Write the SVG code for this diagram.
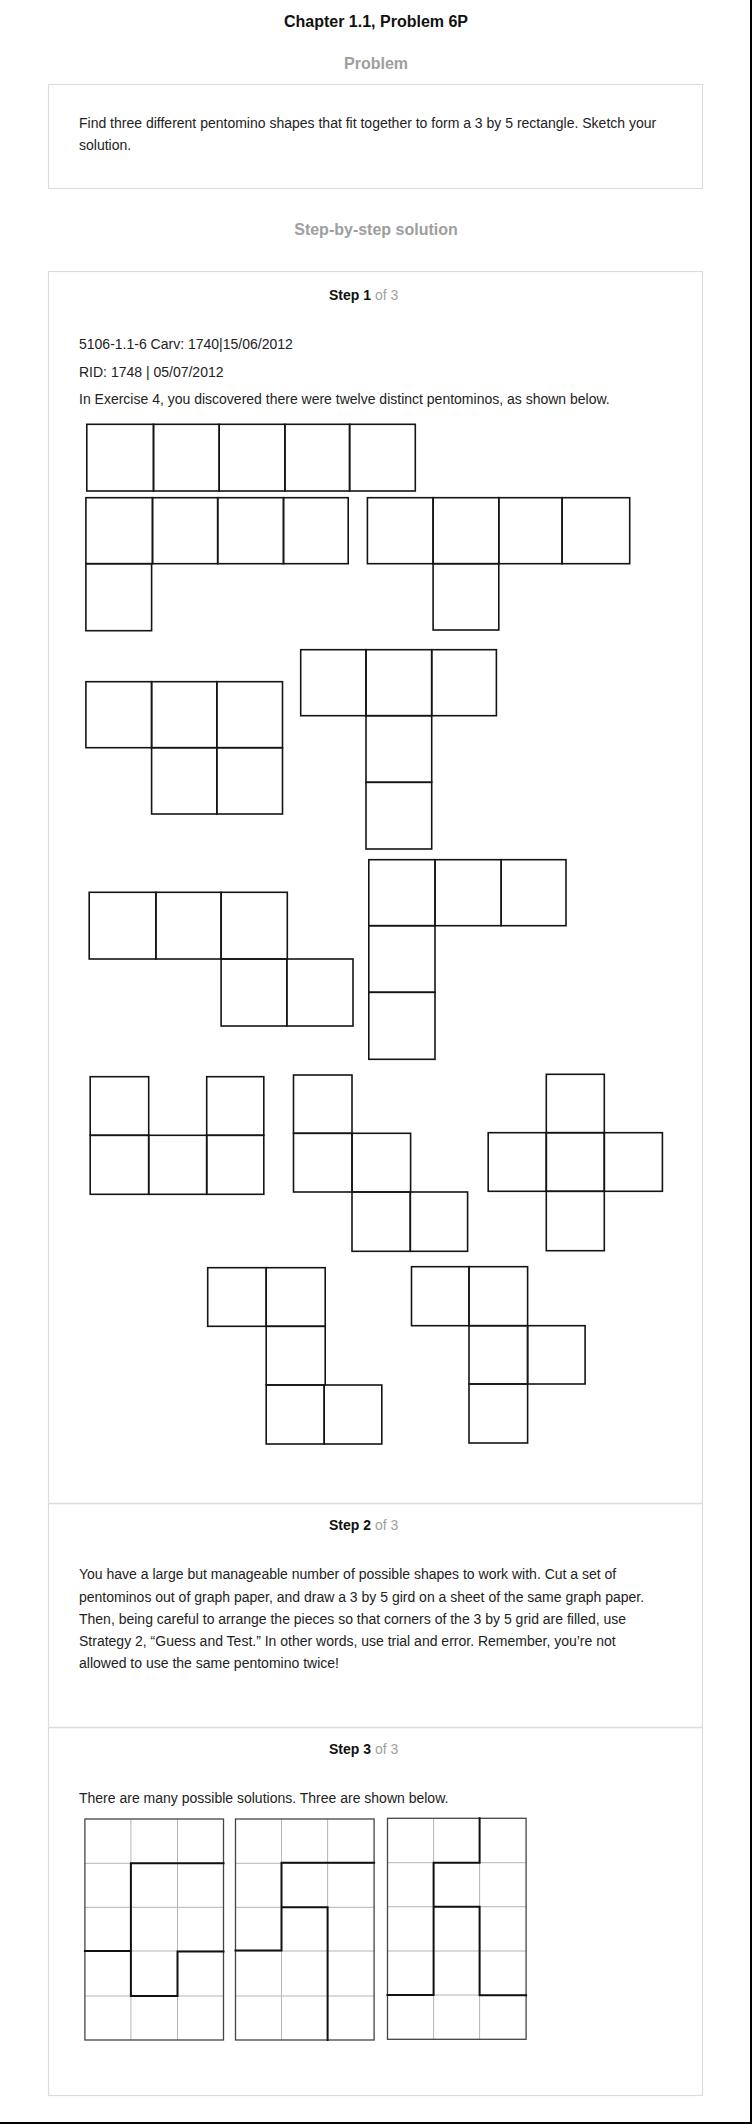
<svg xmlns="http://www.w3.org/2000/svg" width="752" height="2124" viewBox="0 0 752 2124">
<style>
text{font-family:"Liberation Sans",Arial,sans-serif;}
.title{font-size:16px;font-weight:bold;fill:#111;}
.head{font-size:16px;font-weight:bold;fill:#9e9e9e;}
.body{font-size:14px;fill:#222;}
.stepb{font-size:14px;font-weight:bold;fill:#111;}
.stepg{font-size:14px;fill:#a0a0a0;}
.box{fill:#fff;stroke:#dcdcdc;stroke-width:1.2;}
.sep{stroke:#dcdcdc;stroke-width:1.5;}
.pc rect{fill:none;stroke:#151515;stroke-width:1.6;}
.gl{stroke:#b5b5b5;stroke-width:1;fill:none;}
.go{stroke:#444;stroke-width:1.3;fill:none;}
.gt{stroke:#111;stroke-width:2;fill:none;stroke-linecap:square;}
</style>
<rect x="0" y="0" width="752" height="2124" fill="#fff"/>
<line x1="751" y1="0" x2="751" y2="2124" stroke="#000" stroke-width="2"/>
<line x1="0" y1="2123" x2="752" y2="2123" stroke="#000" stroke-width="2"/>

<g id="header">
<text class="title" x="376" y="27" text-anchor="middle">Chapter 1.1, Problem 6P</text>
<text class="head" x="376" y="68.5" text-anchor="middle">Problem</text>
</g>

<g id="problem">
<rect class="box" x="48.5" y="84.5" width="654" height="104"/>
<text class="body" x="79" y="127.5">Find three different pentomino shapes that fit together to form a 3 by 5 rectangle. Sketch your</text>
<text class="body" x="79" y="150">solution.</text>
</g>

<text class="head" x="376" y="235" text-anchor="middle">Step-by-step solution</text>

<g id="steps-box">
<rect class="box" x="48.5" y="271.5" width="654" height="1824"/>
<line class="sep" x1="48.5" y1="1503.5" x2="702.5" y2="1503.5"/>
<line class="sep" x1="48.5" y1="1727.5" x2="702.5" y2="1727.5"/>
</g>

<g id="step1">
<text x="329" y="299.5"><tspan class="stepb">Step 1</tspan><tspan class="stepg"> of 3</tspan></text>
<text class="body" x="79" y="348.5">5106-1.1-6 Carv: 1740|15/06/2012</text>
<text class="body" x="79" y="376.5">RID: 1748 | 05/07/2012</text>
<text class="body" x="79" y="404">In Exercise 4, you discovered there were twelve distinct pentominos, as shown below.</text>
</g>

<g id="pent-I" class="pc">
<rect x="86.8" y="424.3" width="66.7" height="66.7"/>
<rect x="153.5" y="424.3" width="65.7" height="66.7"/>
<rect x="219.2" y="424.3" width="65.7" height="66.7"/>
<rect x="284.9" y="424.3" width="64.7" height="66.7"/>
<rect x="349.6" y="424.3" width="65.7" height="66.7"/>
</g>
<g id="pent-L" class="pc">
<rect x="85.9" y="497.7" width="66.6" height="66"/>
<rect x="152.5" y="497.7" width="65.2" height="66"/>
<rect x="217.7" y="497.7" width="65.8" height="66"/>
<rect x="283.5" y="497.7" width="64.7" height="66"/>
<rect x="85.9" y="563.7" width="65.7" height="67"/>
</g>
<g id="pent-Y" class="pc">
<rect x="367.4" y="497.7" width="65.7" height="66"/>
<rect x="433.1" y="497.7" width="65.7" height="66"/>
<rect x="498.8" y="497.7" width="63.3" height="66"/>
<rect x="562.1" y="497.7" width="67.6" height="66"/>
<rect x="433.1" y="563.7" width="65.7" height="66.3"/>
</g>
<g id="pent-P" class="pc">
<rect x="85.9" y="681.7" width="65.7" height="66"/>
<rect x="151.6" y="681.7" width="65.2" height="66"/>
<rect x="216.8" y="681.7" width="65.7" height="66"/>
<rect x="151.6" y="747.7" width="65.2" height="66.3"/>
<rect x="216.8" y="747.7" width="65.7" height="66.3"/>
</g>
<g id="pent-T" class="pc">
<rect x="300.7" y="649.7" width="65.3" height="66"/>
<rect x="366" y="649.7" width="65.7" height="66"/>
<rect x="431.7" y="649.7" width="64.7" height="66"/>
<rect x="366" y="715.7" width="65.7" height="66.6"/>
<rect x="366" y="782.3" width="65.7" height="66.7"/>
</g>
<g id="pent-N" class="pc">
<rect x="89.2" y="892.3" width="66.7" height="66.7"/>
<rect x="155.9" y="892.3" width="65.2" height="66.7"/>
<rect x="221.1" y="892.3" width="66.2" height="66.7"/>
<rect x="221.1" y="959" width="65.7" height="67"/>
<rect x="286.8" y="959" width="66.2" height="67"/>
</g>
<g id="pent-V" class="pc">
<rect x="368.8" y="859.7" width="66.2" height="66"/>
<rect x="435" y="859.7" width="66.2" height="66"/>
<rect x="501.2" y="859.7" width="64.8" height="66"/>
<rect x="368.8" y="925.7" width="66.2" height="66.6"/>
<rect x="368.8" y="992.3" width="66.2" height="67"/>
</g>
<g id="pent-U" class="pc">
<rect x="90.2" y="1076.7" width="58.5" height="58.6"/>
<rect x="206.7" y="1076.7" width="57.1" height="58.6"/>
<rect x="90.2" y="1135.3" width="58.5" height="59"/>
<rect x="148.7" y="1135.3" width="58" height="59"/>
<rect x="206.7" y="1135.3" width="57.1" height="59"/>
</g>
<g id="pent-W" class="pc">
<rect x="293.5" y="1075" width="58.5" height="58.3"/>
<rect x="293.5" y="1133.3" width="58.5" height="58.7"/>
<rect x="352" y="1133.3" width="58.6" height="58.7"/>
<rect x="352" y="1192" width="58.3" height="59.3"/>
<rect x="410.3" y="1192" width="57.3" height="59.3"/>
</g>
<g id="pent-X" class="pc">
<rect x="546.3" y="1074.3" width="58" height="58.4"/>
<rect x="488.2" y="1132.7" width="58.1" height="58.6"/>
<rect x="546.3" y="1132.7" width="58" height="58.6"/>
<rect x="604.3" y="1132.7" width="58.1" height="58.6"/>
<rect x="546.3" y="1191.3" width="58" height="59.4"/>
</g>
<g id="pent-Z" class="pc">
<rect x="207.7" y="1267.7" width="58.5" height="58.6"/>
<rect x="266.2" y="1267.7" width="59" height="58.6"/>
<rect x="266.2" y="1326.3" width="59" height="58.7"/>
<rect x="266.2" y="1385" width="58" height="59"/>
<rect x="324.2" y="1385" width="57.6" height="59"/>
</g>
<g id="pent-F" class="pc">
<rect x="411.5" y="1266.7" width="57.5" height="59"/>
<rect x="469" y="1266.7" width="58.6" height="59"/>
<rect x="469" y="1325.7" width="58.6" height="58.3"/>
<rect x="527.6" y="1325.7" width="57.5" height="58.3"/>
<rect x="469" y="1384" width="58.6" height="59"/>
</g>

<g id="step2">
<text x="329" y="1530"><tspan class="stepb">Step 2</tspan><tspan class="stepg"> of 3</tspan></text>
<text class="body" x="79" y="1578.5">You have a large but manageable number of possible shapes to work with. Cut a set of</text>
<text class="body" x="79" y="1601.5">pentominos out of graph paper, and draw a 3 by 5 gird on a sheet of the same graph paper.</text>
<text class="body" x="79" y="1623.5">Then, being careful to arrange the pieces so that corners of the 3 by 5 grid are filled, use</text>
<text class="body" x="79" y="1645.5">Strategy 2, “Guess and Test.” In other words, use trial and error. Remember, you’re not</text>
<text class="body" x="79" y="1668">allowed to use the same pentomino twice!</text>
</g>

<g id="step3">
<text x="329" y="1753.5"><tspan class="stepb">Step 3</tspan><tspan class="stepg"> of 3</tspan></text>
<text class="body" x="79" y="1802.5">There are many possible solutions. Three are shown below.</text>
</g>

<g id="solution-1">
<path class="gl" d="M130.9 1819V2040M177.5 1819V2040M84.9 1863.3H223.5M84.9 1907.3H223.5M84.9 1951H223.5M84.9 1996H223.5"/>
<rect class="go" x="84.9" y="1819" width="138.6" height="221"/>
<path class="gt" d="M223.5 1863.3H130.9V1996H177.5V1951.5H223.5M84.9 1951H130.9"/>
</g>
<g id="solution-2">
<path class="gl" d="M281.5 1819V2040M327.6 1819V2040M235.5 1863.3H374.1M235.5 1907.3H374.1M235.5 1951H374.1M235.5 1996H374.1"/>
<rect class="go" x="235.5" y="1819" width="138.6" height="221"/>
<path class="gt" d="M374.1 1862.8H281.5V1950.5H235.5M281.5 1907.3H327.6V2040"/>
</g>
<g id="solution-3">
<path class="gl" d="M433.6 1818.3V2039.3M479.6 1818.3V2039.3M387.5 1862.7H526.1M387.5 1906.7H526.1M387.5 1951H526.1M387.5 1995H526.1"/>
<rect class="go" x="387.5" y="1818.3" width="138.6" height="221"/>
<path class="gt" d="M479.6 1818.3V1862.7H433.6V1995H387.5M433.6 1906.7H479.6V1995.3H526.1"/>
</g>
</svg>
